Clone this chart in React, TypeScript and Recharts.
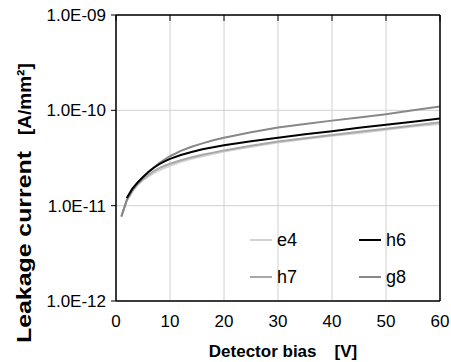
import {
  CartesianGrid,
  Label,
  Legend,
  Line,
  LineChart,
  XAxis,
  YAxis,
} from "recharts";

const FONT = '"Liberation Sans", Arial, sans-serif';

// detector bias [V]
const bias = [1, 2, 3, 4, 5, 6, 7, 8, 9, 10, 12, 14, 16, 18, 20, 25, 30, 35, 40, 45, 50, 55, 60];

// leakage current [A/mm2] per sensor
const e4 = [
  7.7e-12, 1.12e-11, 1.4e-11, 1.65e-11, 1.85e-11, 2.02e-11, 2.2e-11, 2.35e-11, 2.5e-11, 2.62e-11,
  2.88e-11, 3.1e-11, 3.3e-11, 3.5e-11, 3.7e-11, 4.15e-11, 4.6e-11, 5.0e-11, 5.4e-11, 5.8e-11,
  6.25e-11, 6.75e-11, 7.2e-11,
];
const h6 = [
  null, 1.2e-11, 1.5e-11, 1.75e-11, 2.0e-11, 2.25e-11, 2.5e-11, 2.72e-11, 2.92e-11, 3.1e-11,
  3.4e-11, 3.65e-11, 3.9e-11, 4.1e-11, 4.3e-11, 4.75e-11, 5.15e-11, 5.6e-11, 6.05e-11, 6.55e-11,
  7.05e-11, 7.6e-11, 8.2e-11,
];
const h7 = [
  7.7e-12, 1.15e-11, 1.42e-11, 1.68e-11, 1.9e-11, 2.1e-11, 2.3e-11, 2.48e-11, 2.62e-11, 2.75e-11,
  3.0e-11, 3.22e-11, 3.42e-11, 3.6e-11, 3.8e-11, 4.25e-11, 4.7e-11, 5.1e-11, 5.5e-11, 5.95e-11,
  6.4e-11, 6.95e-11, 7.5e-11,
];
const g8 = [
  7.7e-12, 1.15e-11, 1.45e-11, 1.72e-11, 1.98e-11, 2.25e-11, 2.52e-11, 2.8e-11, 3.05e-11, 3.3e-11,
  3.75e-11, 4.15e-11, 4.5e-11, 4.85e-11, 5.15e-11, 5.9e-11, 6.6e-11, 7.2e-11, 7.8e-11, 8.4e-11,
  9.1e-11, 1.0e-10, 1.1e-10,
];

const legendOrder = ["e4", "h6", "h7", "g8"];
const xTicks = [0, 10, 20, 30, 40, 50, 60];
const yTicks = [1e-12, 1e-11, 1e-10, 1e-9];

const data = bias.map((v, i) => ({ v, e4: e4[i], h6: h6[i], h7: h7[i], g8: g8[i] }));

const fmtExp = (v: number) => {
  const e = Math.round(Math.log10(v));
  return "1.0E" + (e < 0 ? "-" : "+") + String(Math.abs(e)).padStart(2, "0");
};

function LegendBox({ payload }: any) {
  const items = legendOrder
    .map((n) => (payload || []).find((p: any) => p.value === n))
    .filter(Boolean);
  return (
    <div
      style={{
        position: "absolute",
        left: 250,
        top: 229,
        width: 220,
        display: "grid",
        gridTemplateColumns: "109px 109px",
        rowGap: 15,
        fontFamily: FONT,
        fontSize: 18,
        color: "#000",
      }}
    >
      {items.map((p: any) => (
        <div key={p.value} style={{ display: "flex", alignItems: "center", height: 22 }}>
          <span
            style={{
              display: "inline-block",
              width: 22,
              height: 2,
              background: p.color,
              marginRight: 5,
            }}
          />
          <span>{p.value}</span>
        </div>
      ))}
    </div>
  );
}

export default function App() {
  return (
    <div style={{ position: "absolute", left: 0, top: 0, background: "#fff" }}>
      <LineChart
        width={451}
        height={362}
        data={data}
        margin={{ top: 0, right: 0, bottom: 0, left: 0 }}
      >
        <CartesianGrid stroke="#d0d0d0" strokeWidth={1} />
        <XAxis
          dataKey="v"
          type="number"
          domain={[0, 60]}
          ticks={xTicks}
          height={61}
          axisLine={{ stroke: "#000", strokeWidth: 1.5 }}
          tickLine={false}
          tickMargin={8}
          tick={{ fill: "#000", fontSize: 17, fontFamily: FONT }}
        >
          <Label
            content={() => (
              <text
                x={283}
                y={357}
                textAnchor="middle"
                fontFamily={FONT}
                fontSize={17}
                fontWeight="bold"
                fill="#000"
              >
                Detector bias
                <tspan dx={18}>[V]</tspan>
              </text>
            )}
          />
        </XAxis>
        <XAxis
          xAxisId="top"
          orientation="top"
          dataKey="v"
          type="number"
          domain={[0, 60]}
          ticks={xTicks}
          height={15}
          axisLine={{ stroke: "#000", strokeWidth: 1.5 }}
          tickLine={{ stroke: "#000" }}
          tickSize={-6}
          tickFormatter={() => ""}
        />
        <YAxis
          type="number"
          scale="log"
          domain={[1e-12, 1e-9]}
          ticks={yTicks}
          width={116}
          allowDataOverflow
          axisLine={{ stroke: "#000", strokeWidth: 1.5 }}
          tickLine={{ stroke: "#000" }}
          tickSize={5}
          tickMargin={5}
          tickFormatter={fmtExp}
          tick={{ fill: "#000", fontSize: 17, fontFamily: FONT }}
        >
          <Label
            content={() => (
              <g fontFamily={FONT} fontWeight="bold" fill="#000">
                <text
                  transform="translate(31 343) rotate(-90)"
                  fontSize={21}
                  textLength={192}
                  lengthAdjust="spacingAndGlyphs"
                >
                  Leakage current
                </text>
                <text transform="translate(31 135) rotate(-90)" fontSize={19}>
                  [A/mm²]
                </text>
              </g>
            )}
          />
        </YAxis>
        <YAxis
          yAxisId="right"
          orientation="right"
          width={11}
          tick={false}
          tickLine={false}
          axisLine={{ stroke: "#000", strokeWidth: 1.5 }}
        />
        <Legend content={LegendBox} wrapperStyle={{ left: 0, top: 0, width: 0, height: 0 }} />
        <Line dataKey="e4" name="e4" stroke="#d2d2d2" strokeWidth={2} dot={false} isAnimationActive={false} />
        <Line dataKey="h7" name="h7" stroke="#a8a8a8" strokeWidth={2} dot={false} isAnimationActive={false} />
        <Line dataKey="g8" name="g8" stroke="#888888" strokeWidth={2} dot={false} isAnimationActive={false} />
        <Line dataKey="h6" name="h6" stroke="#000000" strokeWidth={2} dot={false} isAnimationActive={false} />
      </LineChart>
    </div>
  );
}
